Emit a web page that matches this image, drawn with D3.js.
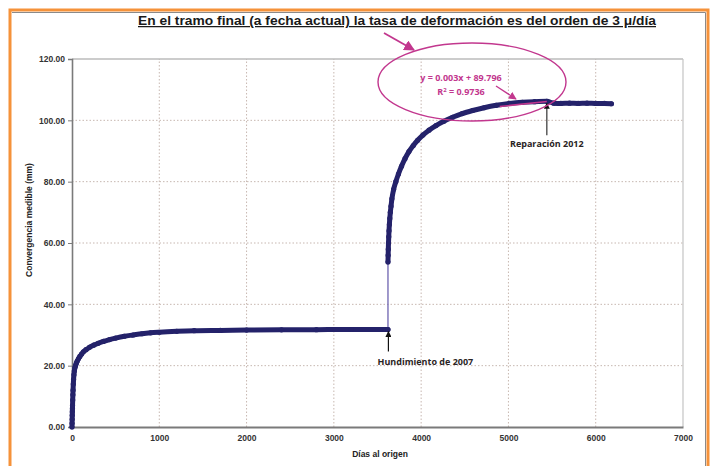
<!DOCTYPE html>
<html>
<head>
<meta charset="utf-8">
<script src="https://cdn.jsdelivr.net/npm/d3@7"></script>
<style>
  html, body { margin: 0; padding: 0; background: #ffffff; }
  svg { display: block; }
</style>
</head>
<body>
<svg id="chart" width="711" height="466"></svg>
<script>
// Convergence readings (days since origin, mm) before the 2007 collapse
const daysBefore = [0, 1, 2, 3, 4, 5, 6, 8, 10, 12, 15, 18, 22, 27, 33, 40, 50, 60, 75, 90, 110, 130, 160, 200, 250, 300, 360, 430, 500, 600, 700, 800, 900, 1000, 1200, 1400, 1700, 2000, 2400, 2800, 3200, 3620];
const mmBefore   = [0, 1.2, 2.5, 3.8, 5, 6, 7, 8.8, 10.5, 12, 14, 15.5, 17, 18.3, 19.3, 20, 20.8, 21.5, 22.3, 23, 23.8, 24.5, 25.2, 26, 26.7, 27.3, 27.9, 28.5, 29, 29.6, 30, 30.4, 30.7, 30.9, 31.2, 31.4, 31.5, 31.6, 31.7, 31.75, 31.8, 31.8];

// Readings after the collapse, through the 2012 repair and up to today
const daysAfter = [3620, 3622, 3624, 3626, 3629, 3632, 3636, 3641, 3647, 3655, 3665, 3685, 3710, 3740, 3775, 3815, 3860, 3910, 3960, 4020, 4090, 4170, 4260, 4360, 4470, 4590, 4720, 4860, 5010, 5160, 5300, 5440, 5520, 5600, 5700, 5800, 5900, 6000, 6100, 6180];
const mmAfter   = [53.8, 56, 58, 60, 62, 64, 66, 68, 70, 72, 74.4, 77.5, 80, 82.5, 85, 87.5, 89.8, 91.8, 93.5, 95.2, 96.8, 98.3, 99.7, 101, 102.2, 103.2, 104.1, 104.9, 105.5, 105.9, 106.1, 106.2, 105.6, 105.5, 105.6, 105.5, 105.6, 105.5, 105.5, 105.4];

// Linear trend over the final stretch: y = 0.003x + 89.796, R² = 0.9736
const trendSlope = 0.003;
const trendIntercept = 89.796;
const trendR2 = 0.9736;
const trendDays = [4900, 5440];

// Axis ticks
const yTicks = [0, 20, 40, 60, 80, 100, 120];
const xTicks = [0, 1000, 2000, 3000, 4000, 5000, 6000, 7000];

// Event markers
const events = [
  { day: 3625, mm: 31.8, label: "Hundimiento de 2007", below: true },
  { day: 5440, mm: 106.2, label: "Reparación 2012", below: true }
];

const titleText = "En el tramo final (a fecha actual) la tasa de deformación es del orden de 3 μ/día";

const svg = d3.select("#chart");
const W = 711, H = 466;

// Orange page frame with inner shadow line
svg.append("rect").attr("x", 0).attr("y", 0).attr("width", W).attr("height", H).attr("fill", "#ffffff");
svg.append("path")
  .attr("d", `M10,${H + 5} V10 H708 V${H + 5}`)
  .attr("fill", "none").attr("stroke", "#f5923a").attr("stroke-width", 3);
svg.append("path")
  .attr("d", `M12,12.5 H705.5 V${H + 5}`)
  .attr("fill", "none").attr("stroke", "#8a8a8a").attr("stroke-width", 1);

const x = d3.scaleLinear().domain([0, 7000]).range([72, 683]);
const y = d3.scaleLinear().domain([0, 120]).range([427, 59]);

// Dotted grid
const grid = svg.append("g");
grid.selectAll("line.h").data(yTicks.filter(v => v > 0 && v < 120)).join("line")
  .attr("x1", x(0)).attr("x2", x(7000))
  .attr("y1", d => y(d)).attr("y2", d => y(d))
  .attr("stroke", "#c7b7b0").attr("stroke-width", 1).attr("stroke-dasharray", "1.5,2");
grid.selectAll("line.v").data(xTicks.filter(v => v > 0 && v < 7000)).join("line")
  .attr("y1", y(0)).attr("y2", y(120))
  .attr("x1", d => x(d)).attr("x2", d => x(d))
  .attr("stroke", "#c7b7b0").attr("stroke-width", 1).attr("stroke-dasharray", "1.5,2");

// Plot frame
svg.append("line").attr("x1", x(0)).attr("x2", x(7000)).attr("y1", y(120)).attr("y2", y(120))
  .attr("stroke", "#9a9a9a").attr("stroke-width", 1.2);
svg.append("line").attr("x1", x(7000)).attr("x2", x(7000)).attr("y1", y(120)).attr("y2", y(0))
  .attr("stroke", "#c4c4c4").attr("stroke-width", 1.2);

// Axes
const yAxis = d3.axisLeft(y).tickValues(yTicks).tickFormat(d3.format(".2f")).tickSize(4).tickPadding(3);
const gy = svg.append("g").attr("transform", `translate(${x(0)},0)`).call(yAxis);
gy.select(".domain").attr("stroke", "#7a7a7a").attr("stroke-width", 1.6);
gy.selectAll(".tick line").attr("stroke", "#7a7a7a");
gy.selectAll("text").attr("font-family", "Arial, 'Liberation Sans', sans-serif")
  .attr("font-size", 8.5).attr("font-weight", "bold").attr("fill", "#333");

const xAxis = d3.axisBottom(x).tickValues(xTicks).tickFormat(d3.format("d")).tickSize(0).tickPadding(8);
const gx = svg.append("g").attr("transform", `translate(0,${y(0)})`).call(xAxis);
gx.select(".domain").attr("stroke", "#7a7a7a").attr("stroke-width", 2.2);
gx.selectAll("text").attr("font-family", "Arial, 'Liberation Sans', sans-serif")
  .attr("font-size", 8.5).attr("font-weight", "bold").attr("fill", "#333");

// Axis titles
svg.append("text").attr("x", 380).attr("y", 457).attr("text-anchor", "middle")
  .attr("font-family", "Arial, 'Liberation Sans', sans-serif").attr("font-size", 8.5)
  .attr("font-weight", "bold").attr("fill", "#222").text("Días al origen");
svg.append("text").attr("transform", "translate(32,220) rotate(-90)").attr("text-anchor", "middle")
  .attr("font-family", "Arial, 'Liberation Sans', sans-serif").attr("font-size", 8.5)
  .attr("font-weight", "bold").attr("fill", "#222").text("Convergencia medible (mm)");

// Series
const before = daysBefore.map((d, i) => ({ d, v: mmBefore[i] }));
const after = daysAfter.map((d, i) => ({ d, v: mmAfter[i] }));
const line = d3.line().x(p => x(p.d)).y(p => y(p.v)).curve(d3.curveMonotoneX);

// thin connector across the collapse
svg.append("path")
  .attr("d", d3.line().x(p => x(p.d)).y(p => y(p.v))([before[before.length - 1], after[0]]))
  .attr("fill", "none").attr("stroke", "#6d63b0").attr("stroke-width", 1.3);

const navy = "#24226a";
[before, after].forEach(seg => {
  svg.append("path").attr("d", line(seg))
    .attr("fill", "none").attr("stroke", navy).attr("stroke-width", 5)
    .attr("stroke-linecap", "round").attr("stroke-linejoin", "round");
  svg.append("g").selectAll("circle").data(seg).join("circle")
    .attr("cx", p => x(p.d)).attr("cy", p => y(p.v)).attr("r", 2.6).attr("fill", navy);
});

// Trend line over the final stretch
const pink = "#c2378e";
svg.append("line")
  .attr("x1", x(trendDays[0])).attr("y1", y(trendSlope * trendDays[0] + trendIntercept))
  .attr("x2", x(trendDays[1])).attr("y2", y(trendSlope * trendDays[1] + trendIntercept))
  .attr("stroke", pink).attr("stroke-width", 1.6);

// Event arrows and labels
const defs = svg.append("defs");
defs.append("marker").attr("id", "blackHead").attr("viewBox", "0 0 10 10")
  .attr("refX", 9).attr("refY", 5).attr("markerWidth", 5).attr("markerHeight", 5)
  .attr("orient", "auto-start-reverse")
  .append("path").attr("d", "M0,0 L10,5 L0,10 Z").attr("fill", "#111");
defs.append("marker").attr("id", "pinkHead").attr("viewBox", "0 0 10 10")
  .attr("refX", 9).attr("refY", 5).attr("markerWidth", 6).attr("markerHeight", 6)
  .attr("orient", "auto")
  .append("path").attr("d", "M0,0 L10,5 L0,10 Z").attr("fill", pink);

const ev0 = events[0];
svg.append("line").attr("x1", x(ev0.day)).attr("x2", x(ev0.day))
  .attr("y1", y(ev0.mm) + 22).attr("y2", y(ev0.mm) + 2)
  .attr("stroke", "#111").attr("stroke-width", 1.2).attr("marker-end", "url(#blackHead)");
svg.append("text").attr("x", x(ev0.day) + 37).attr("y", y(ev0.mm) + 36).attr("text-anchor", "middle")
  .attr("font-family", "'Open Sans', Lato, sans-serif").attr("font-size", 9).attr("font-weight", "bold")
  .attr("fill", "#2a2424").text(ev0.label);

const ev1 = events[1];
svg.append("line").attr("x1", x(ev1.day)).attr("x2", x(ev1.day))
  .attr("y1", y(ev1.mm) + 34).attr("y2", y(ev1.mm) + 2)
  .attr("stroke", "#333").attr("stroke-width", 1.2).attr("marker-end", "url(#blackHead)");
svg.append("text").attr("x", x(ev1.day)).attr("y", y(ev1.mm) + 46).attr("text-anchor", "middle")
  .attr("font-family", "'Open Sans', Lato, sans-serif").attr("font-size", 9).attr("font-weight", "bold")
  .attr("fill", "#2a2424").text(ev1.label);

// Trend equation callout
svg.append("ellipse").attr("cx", 472).attr("cy", 82).attr("rx", 94).attr("ry", 39)
  .attr("fill", "none").attr("stroke", pink).attr("stroke-width", 1.4);
const eq = svg.append("text").attr("text-anchor", "middle")
  .attr("font-family", "'Open Sans', Lato, sans-serif").attr("font-size", 9).attr("font-weight", "bold")
  .attr("fill", pink);
eq.append("tspan").attr("x", 461).attr("y", 81)
  .text(`y = ${trendSlope}x + ${trendIntercept}`);
const r2 = svg.append("text").attr("text-anchor", "middle")
  .attr("font-family", "'Open Sans', Lato, sans-serif").attr("font-size", 9).attr("font-weight", "bold")
  .attr("fill", pink).attr("x", 461).attr("y", 95);
r2.append("tspan").text("R");
r2.append("tspan").attr("dy", -3).attr("font-size", 6).text("2");
r2.append("tspan").attr("dy", 3).text(` = ${trendR2}`);
svg.append("line").attr("x1", 496).attr("y1", 86).attr("x2", 516).attr("y2", 99)
  .attr("stroke", pink).attr("stroke-width", 1.3).attr("marker-end", "url(#pinkHead)");

// Title with arrow pointing to the callout
svg.append("text").attr("x", 397).attr("y", 25).attr("text-anchor", "middle")
  .attr("font-family", "Arial, 'Liberation Sans', sans-serif").attr("font-size", 12.5)
  .attr("font-weight", "bold").attr("fill", "#1a1a1a")
  .attr("text-decoration", "underline")
  .attr("textLength", 518).attr("lengthAdjust", "spacingAndGlyphs")
  .text(titleText);
svg.append("line").attr("x1", 384).attr("y1", 33).attr("x2", 414).attr("y2", 50)
  .attr("stroke", pink).attr("stroke-width", 1.8).attr("marker-end", "url(#pinkHead)");
</script>
</body>
</html>
